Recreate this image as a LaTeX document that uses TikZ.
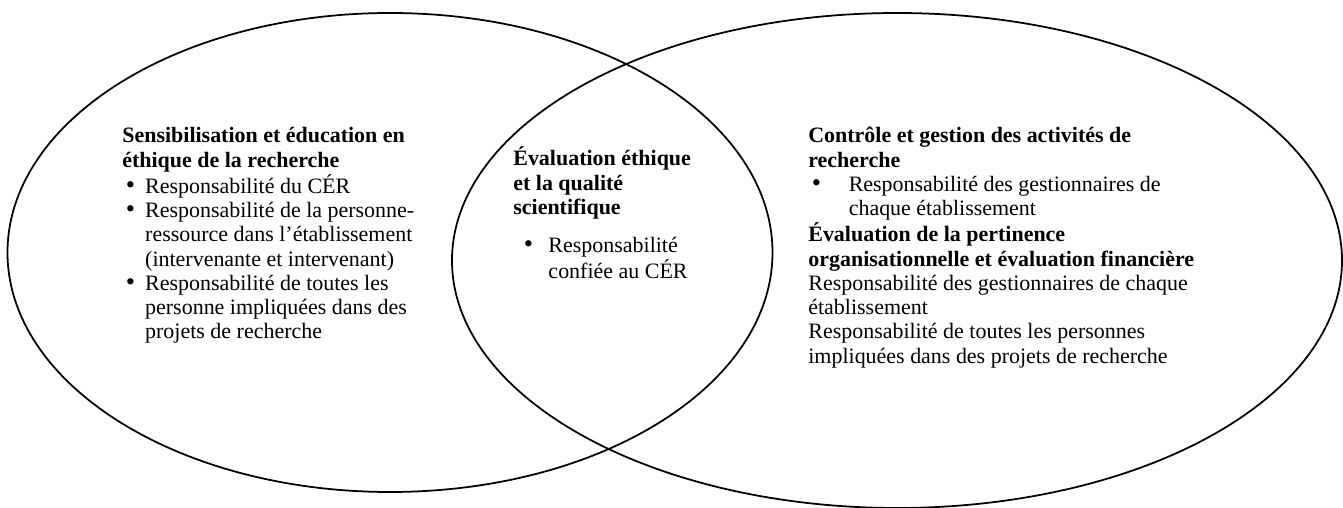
\documentclass[tikz,border=0pt]{standalone}
\usepackage{fontspec}
\setmainfont{Liberation Serif}
\usetikzlibrary{shapes.geometric}

\newcommand{\pleine}[1]{\multicolumn{2}{@{}l@{}}{#1}}
\newcommand{\puce}{{\fontsize{15}{13}\selectfont\textbullet}}

\begin{document}
\begin{tikzpicture}[cercle/.style={ellipse,draw,line width=1pt,inner sep=0pt},
  bloc/.style={inner sep=0pt,anchor=base west,font=\fontsize{12.5}{13.8}\selectfont}]
\useasboundingbox (0,0) rectangle (26.86,10.16);

% les deux domaines
\node [cercle,minimum width=15.3cm,minimum height=9.58cm] (gauche) at (7.8,5.11) {};
\node [cercle,minimum width=17.8cm,minimum height=9.9cm] (droite) at (17.94,4.95) {};

\node [bloc] (sensib) at (2.44,7.30) {\begin{tabular}[t]{@{\hspace{2pt}}p{11pt}@{}l@{}}
\pleine{\textbf{Sensibilisation et éducation en}}\\
\pleine{\textbf{éthique de la recherche}}\\
\puce & Responsabilité du CÉR\\
\puce & Responsabilité de la personne-\\
 & ressource dans l’établissement\\
 & (intervenante et intervenant)\\
\puce & Responsabilité de toutes les\\
 & personne impliquées dans des\\
 & projets de recherche
\end{tabular}};

% zone commune
\node [bloc] (evaluation) at (10.26,6.84) {\begin{tabular}[t]{@{\hspace{6pt}}p{14pt}@{}l@{}}
\pleine{\textbf{Évaluation éthique}}\\
\pleine{\textbf{et la qualité}}\\
\pleine{\textbf{scientifique}}\\[8pt]
\puce & Responsabilité\\
 & confiée au CÉR
\end{tabular}};

\node [bloc] (controle) at (16.16,7.30) {\begin{tabular}[t]{@{\hspace{2pt}}p{21pt}@{}l@{}}
\pleine{\textbf{Contrôle et gestion des activités de}}\\
\pleine{\textbf{recherche}}\\
\puce & Responsabilité des gestionnaires de\\
 & chaque établissement\\
\pleine{\textbf{Évaluation de la pertinence}}\\
\pleine{\textbf{organisationnelle et évaluation financière}}\\
\pleine{Responsabilité des gestionnaires de chaque}\\
\pleine{établissement}\\
\pleine{Responsabilité de toutes les personnes}\\
\pleine{impliquées dans des projets de recherche}
\end{tabular}};
\end{tikzpicture}
\end{document}
